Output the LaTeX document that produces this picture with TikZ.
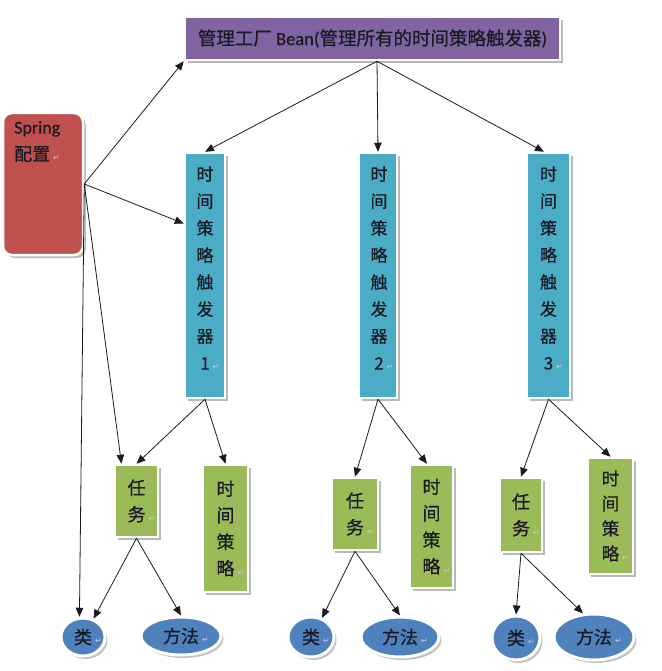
\documentclass[tikz,border=0pt]{standalone}
\usepackage{fontspec}
\setmainfont{Carlito}[FakeBold=0.4]
\newfontfamily\cjk{Noto Sans CJK SC}[FakeBold=0.6]
\newfontfamily\symf{DejaVu Sans}
\usetikzlibrary{shapes.geometric,shadows,arrows.meta,calc}

\definecolor{factoryc}{HTML}{8064A2}
\definecolor{springc}{HTML}{C0504D}
\definecolor{triggerc}{HTML}{4BACC6}
\definecolor{jobc}{HTML}{9BBB59}
\definecolor{classc}{HTML}{4F81BD}
\definecolor{inkc}{HTML}{1A1A24}

% faint paragraph mark that takes no width
\newcommand\pmark{\rlap{\,\textcolor{gray!40}{\symf\fontsize{8}{8}\selectfont ↵}}}

\tikzset{
  box/.style={rectangle, draw=white, line width=2.5pt, inner sep=0pt,
    drop shadow={shadow xshift=2.8pt, shadow yshift=-3pt, opacity=0.45, fill=black!60}},
  oval/.style={ellipse, draw=white, line width=3pt, inner sep=0pt,
    drop shadow={shadow xshift=2.5pt, shadow yshift=-3pt, opacity=0.4, fill=black!60}},
  txt/.style={text=inkc, inner sep=0pt, align=center},
  column/.style={txt, font=\cjk\fontsize{17}{27}\selectfont},
  short/.style={txt, font=\cjk\fontsize{18}{26.5}\selectfont},
  link/.style={draw=inkc, line width=0.8pt, -{Triangle[length=9pt,width=7.5pt]}},
}

\begin{document}
\begin{tikzpicture}[x=1pt, y=-1pt]
  \useasboundingbox (0,0) rectangle (661,671);
  \fill[white] (0,0) rectangle (661,671);

  % factory bean
  \node[box, fill=factoryc, minimum width=375pt, minimum height=43pt,
        text=inkc, font=\fontsize{18.5}{22}\selectfont] (F) at (372.5,38.5)
        {{\cjk 管理工厂} Bean({\cjk 管理所有的时间策略触发器})};

  % spring configuration
  \node[box, fill=springc, rounded corners=9pt, minimum width=80pt, minimum height=142pt] (S) at (43,184) {};
  \node[txt, align=left, anchor=north west, font=\fontsize{18}{27}\selectfont] (St) at (14,121)
        {Spring\\{\cjk 配置}\pmark};

  % triggers
  \node[box, fill=triggerc, minimum width=40pt, minimum height=245pt] (T1) at (205,275.5) {};
  \node[box, fill=triggerc, minimum width=38pt, minimum height=245pt] (T2) at (378,275.5) {};
  \node[box, fill=triggerc, minimum width=43pt, minimum height=245pt] (T3) at (548.5,275.5) {};
  \node[column] (T1t) at (205,268) {时\\间\\策\\略\\触\\发\\器\\1\pmark};
  \node[column] (T2t) at (379,268) {时\\间\\策\\略\\触\\发\\器\\2\pmark};
  \node[column] (T3t) at (548.5,268) {时\\间\\策\\略\\触\\发\\器\\3\pmark};

  % jobs
  \node[box, fill=jobc, minimum width=43pt, minimum height=72pt, short] (K1) at (136.5,501) {任\\务\pmark};
  \node[box, fill=jobc, minimum width=46pt, minimum height=72pt, short] (K2) at (355,514) {任\\务\pmark};
  \node[box, fill=jobc, minimum width=42pt, minimum height=74pt, short] (K3) at (521,515) {任\\务\pmark};

  % policies
  \node[box, fill=jobc, minimum width=45pt, minimum height=127pt, short] (P1) at (225.5,528.5) {时\\间\\策\\略\pmark};
  \node[box, fill=jobc, minimum width=43pt, minimum height=123pt, short] (P2) at (431.5,526.5) {时\\间\\策\\略\pmark};
  \node[box, fill=jobc, minimum width=45pt, minimum height=116pt, txt,
        font=\cjk\fontsize{17.5}{25}\selectfont] (P3) at (610.5,516) {时\\间\\策\\略\pmark};

  % classes and methods
  \node[oval, fill=classc, minimum width=44pt, minimum height=38pt, short] (C1) at (83,637) {类\pmark};
  \node[oval, fill=classc, minimum width=80pt, minimum height=38pt, short] (M1) at (181,636) {方法\pmark};
  \node[oval, fill=classc, minimum width=46pt, minimum height=40pt, short] (C2) at (311,637) {类\pmark};
  \node[oval, fill=classc, minimum width=78pt, minimum height=40pt, short] (M2) at (400,637) {方法\pmark};
  \node[oval, fill=classc, minimum width=48pt, minimum height=44pt, short] (C3) at (516,638) {类\pmark};
  \node[oval, fill=classc, minimum width=80pt, minimum height=46pt, short] (M3) at (594,637) {方法\pmark};

  % connectors
  \coordinate (J) at (S.east);
  \coordinate (Fb) at ($(F.south)+(4.5,0)$);

  \draw[link] (J) -- (F.south west);
  \draw[link] (J) -- ($(T1.north west)!0.29!(T1.south west)$);
  \draw[link] (J) -- ($(K1.north west)!0.17!(K1.north east)$);
  \draw[link] (J) -- (C1.100);

  \draw[link] (Fb) -- (T1.north);
  \draw[link] (Fb) -- (T2.north);
  \draw[link] (Fb) -- ($(T3.north west)!0.4!(T3.north east)$);

  \draw[link] (T1.south) -- (K1.north);
  \draw[link] (T1.south) -- (P1.north);
  \draw[link] (T2.south) -- (K2.north);
  \draw[link] (T2.south) -- ($(P2.north west)!0.4!(P2.north east)$);
  \draw[link] (T3.south) -- (K3.north);
  \draw[link] (T3.south) -- (P3.north);

  \draw[link] (K1.south) -- (C1.60);
  \draw[link] (K1.south) -- (M1.north);
  \draw[link] (K2.south) -- (C2.60);
  \draw[link] (K2.south) -- (M2.north);
  \draw[link] (K3.south) -- (C3.north);
  \draw[link] (K3.south) -- (M3.115);
\end{tikzpicture}
\end{document}
